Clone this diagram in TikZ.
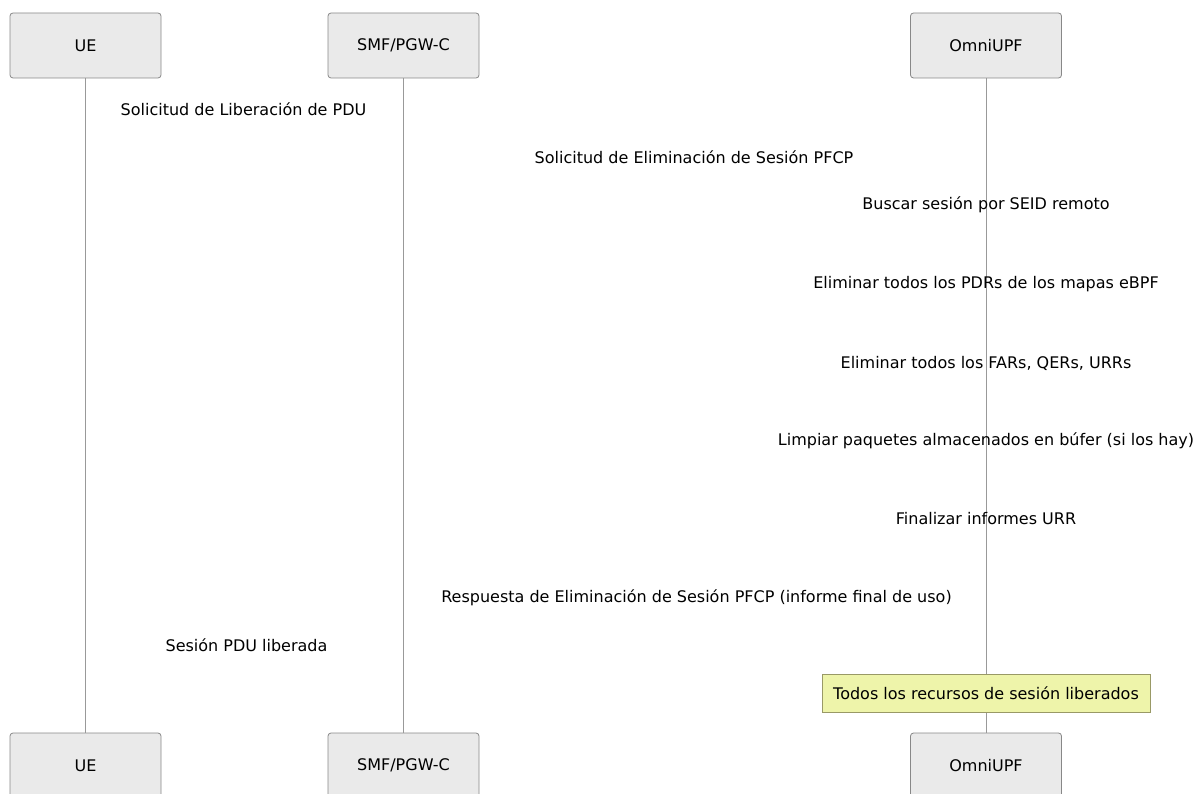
\documentclass[tikz,border=0pt]{standalone}
\usepackage{fontspec}
\setmainfont{DejaVu Sans}
\definecolor{actfill}{HTML}{EAEAEA}
\definecolor{actline}{HTML}{888888}
\definecolor{notefill}{HTML}{EEF4AA}
\definecolor{noteline}{HTML}{999966}
\definecolor{lifeline}{HTML}{999999}
\begin{document}
\begin{tikzpicture}[x=1pt,y=-1pt,
  actor/.style={draw=actline,fill=actfill,rounded corners=3pt,minimum width=151pt,minimum height=65pt,inner sep=0pt,line width=0.8pt,font=\fontsize{16}{19}\selectfont},
  msg/.style={inner sep=0pt,font=\fontsize{16}{19}\selectfont},
  note/.style={draw=noteline,fill=notefill,minimum width=328pt,minimum height=38pt,inner sep=0pt,line width=0.8pt,font=\fontsize{16}{19}\selectfont},
  life/.style={draw=lifeline,line width=0.8pt}]
\useasboundingbox (0,0) rectangle (1197,794);
\node[actor] (ueT) at (85.5,45.5) {UE};
\node[actor] (smfT) at (403.5,45.5) {SMF/PGW-C};
\node[actor] (upfT) at (986,45.5) {OmniUPF};
\node[actor] (ueB) at (85.5,765.5) {UE};
\node[actor] (smfB) at (403.5,765.5) {SMF/PGW-C};
\node[actor] (upfB) at (986,765.5) {OmniUPF};
\draw[life] (ueT) -- (ueB);
\draw[life] (smfT) -- (smfB);
\draw[life] (upfT) -- (upfB);
\node[note] (n1) at (986,693) {Todos los recursos de sesión liberados};
\node[msg] (m1) at (243.5,109) {Solicitud de Liberación de PDU};
\node[msg] (m2) at (694,157) {Solicitud de Eliminación de Sesión PFCP};
\node[msg] (m3) at (986,205) {Buscar sesión por SEID remoto};
\node[msg] (m4) at (986,284) {Eliminar todos los PDRs de los mapas eBPF};
\node[msg] (m5) at (986,363) {Eliminar todos los FARs, QERs, URRs};
\node[msg] (m6) at (986,441) {Limpiar paquetes almacenados en búfer (si los hay)};
\node[msg] (m7) at (986,519) {Finalizar informes URR};
\node[msg] (m8) at (696.5,598) {Respuesta de Eliminación de Sesión PFCP (informe final de uso)};
\node[msg] (m9) at (246.5,645) {Sesión PDU liberada};
\end{tikzpicture}
\end{document}
